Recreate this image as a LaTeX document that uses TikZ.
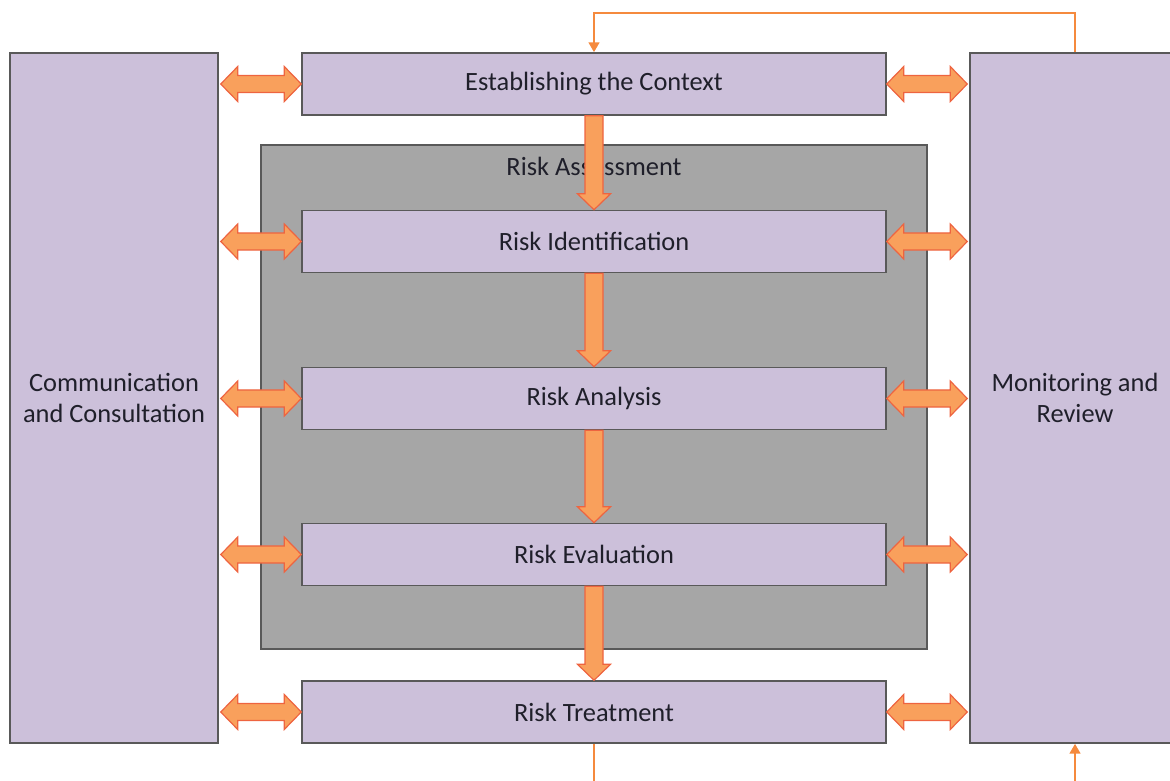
\documentclass[tikz,border=0pt]{standalone}
\usepackage{fontspec}
\setmainfont{Carlito}
\usetikzlibrary{arrows.meta,calc}

\definecolor{boxfill}{HTML}{CCC0DA}
\definecolor{boxline}{HTML}{595959}
\definecolor{assessfill}{HTML}{A6A6A6}
\definecolor{arrowfill}{HTML}{F9A05C}
\definecolor{arrowline}{HTML}{EE6440}
\definecolor{feedbackline}{HTML}{F58A3E}
\definecolor{labeltext}{HTML}{1F1F2A}

\tikzset{
  stage/.style={draw=boxline, fill=boxfill, line width=1.1pt, inner sep=0pt,
    minimum width=438pt, minimum height=46.5pt, text=labeltext,
    font=\fontsize{19.8}{23.2}\selectfont},
  side/.style={stage, align=center, minimum width=156pt, minimum height=517.5pt},
  assessbox/.style={draw=boxline, fill=assessfill, line width=1.1pt,
    minimum width=499.5pt, minimum height=378pt},
  dblarrow/.style={fill=arrowfill, draw=arrowline, line width=0.9pt,
    to path={let \p1=(\tikztostart), \p2=(\tikztotarget) in
      (\x1,\y1) -- (\x1+12.75pt,\y1+13.1pt) -- (\x1+12.75pt,\y1+6.4pt)
      -- (\x2-12.75pt,\y1+6.4pt) -- (\x2-12.75pt,\y1+13.1pt) -- (\x2,\y1)
      -- (\x2-12.75pt,\y1-13.1pt) -- (\x2-12.75pt,\y1-6.4pt)
      -- (\x1+12.75pt,\y1-6.4pt) -- (\x1+12.75pt,\y1-13.1pt) -- cycle}},
  downarrow/.style={fill=arrowfill, draw=arrowline, line width=0.9pt,
    to path={let \p1=(\tikztostart), \p2=(\tikztotarget) in
      (\x1-6.75pt,\y1) -- (\x1-6.75pt,\y2+12pt) -- (\x1-12.4pt,\y2+12pt)
      -- (\x1,\y2) -- (\x1+12.4pt,\y2+12pt) -- (\x1+6.75pt,\y2+12pt)
      -- (\x1+6.75pt,\y1) -- cycle}},
  feedback/.style={draw=feedbackline, line width=1.9pt,
    -{Triangle[width=8pt,length=7.5pt]}}
}

\begin{document}
\begin{tikzpicture}[x=0.75pt,y=-0.75pt]
    \useasboundingbox (0,0) rectangle (1170,781);
    \clip (0,0) rectangle (1170,781);

    % the side boxes
    \node[side] (comm) at (114,398) {Communication\\and Consultation};
    \node[side, minimum width=157.5pt] (mon) at (1075,398) {Monitoring and\\Review};

    % the assessment frame
    \node[assessbox] (assess) at (594,397) {};
    \node[text=labeltext, font=\fontsize{19.8}{23.2}\selectfont] (assesslabel) at (594,166) {Risk Assessment};

    % the steps
    \node[stage] (ctx) at (594,84) {Establishing the Context};
    \node[stage] (ident) at (594,241.5) {Risk Identification};
    \node[stage] (analysis) at (594,398.5) {Risk Analysis};
    \node[stage] (eval) at (594,554.5) {Risk Evaluation};
    \node[stage] (treat) at (594,712) {Risk Treatment};

    % the loop round the steps
    \coordinate (looptop) at (594,13);
    \coordinate (loopbottom) at (594,820);
    \draw[feedback] (mon.north) |- (looptop) -| (ctx.north);
    \draw[feedback] (treat.south) |- (loopbottom) -| (mon.south);

    % the block arrows
    \draw[downarrow] (ctx.south) to (ident.north);
    \draw[downarrow] (ident.south) to (analysis.north);
    \draw[downarrow] (analysis.south) to (eval.north);
    \draw[downarrow] (eval.south) to (treat.north);

    \foreach \s in {ctx,ident,analysis,eval,treat} {
        \draw[dblarrow] ($(comm.east |- \s)+(2,0)$) to (\s.west);
        \draw[dblarrow] (\s.east) to ($(mon.west |- \s)+(-2,0)$);
    }

\end{tikzpicture}
\end{document}
